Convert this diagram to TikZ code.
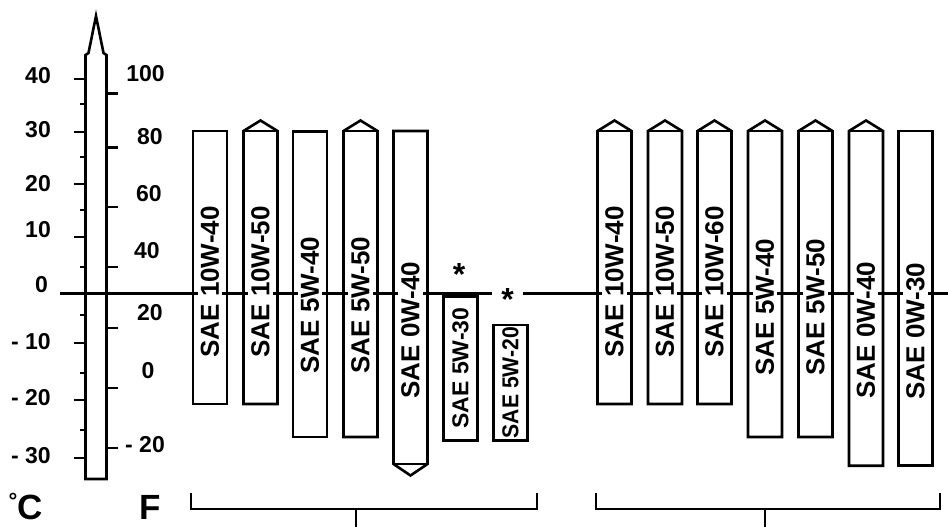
\documentclass[tikz,border=0pt]{standalone}
\usepackage{fontspec}
\setmainfont{Liberation Sans}
\newcommand{\oilbox}[8]{%
  \ifcase#4\relax
    \draw[box] (#1,#2) rectangle ++(34,#3-#2);
  \or
    \draw[box] (#1,#3) -- (#1,#2) -- (#1+17,#2-10.5) -- (#1+34,#2) -- (#1+34,#3) -- cycle;
    \draw[box] (#1,#2) -- (#1+34,#2);
  \or
    \draw[box] (#1,#3) -- (#1,#2) -- (#1+34,#2) -- (#1+34,#3) -- (#1+17,#3+11.5) -- cycle;
    \draw[box] (#1,#3) -- (#1+34,#3);
  \fi
  \node[sae, #7] (#8) at (#1+17,#6) {#5};%
}
\begin{document}
\begin{tikzpicture}[x=1pt,y=-1pt,
  box/.style={line width=2.6pt, line join=miter},
  rule/.style={line width=2.1pt},
  sae/.style={rotate=90, fill=white, inner sep=3pt, font=\fontsize{26}{26}\selectfont\bfseries},
  fs/.style={font=\fontsize{#1}{#1}\selectfont\bfseries},
  lbl/.style={inner sep=0pt, font=\fontsize{23}{23}\selectfont\bfseries},
  big/.style={inner sep=0pt, anchor=base west, font=\fontsize{35}{35}\selectfont\bfseries},
  star/.style={inner sep=0pt, anchor=base, font=\fontsize{32}{32}\selectfont\bfseries}]
\useasboundingbox (0,0) rectangle (948,527);
% zero line
\coordinate (z0) at (60,293.5);
\coordinate (z1) at (491.7,293.5);
\coordinate (z2) at (523.3,293.5);
\coordinate (z3) at (952,293.5);
\draw[rule] (z0) -- (z1);
\draw[rule] (z2) -- (z3);
% thermometer
\draw[box] (85.5,479) -- (85.5,55) -- (88.5,53) -- (96,16) -- (103.5,53) -- (106.5,55) -- (106.5,479) -- cycle;
% celsius ticks
\foreach \yy in {79,131.7,184.3,236.7,343.3,400,458}
  \draw[rule] (74,\yy) -- (85.5,\yy);
\foreach \yy in {104,157,210,267,315,373,430}
  \draw[rule] (80,\yy) -- (85.5,\yy);
% fahrenheit ticks
\foreach \yy in {93.5,147.5,206.7,266.7,328.3,388.3,448.3}
  \draw[rule] (106.5,\yy) -- (118,\yy);
% celsius labels
\node[lbl, anchor=east] (c40) at (51,76) {40};
\node[lbl, anchor=east] (c30) at (51,130) {30};
\node[lbl, anchor=east] (c20) at (51,184) {20};
\node[lbl, anchor=east] (c10) at (51,230) {10};
\node[lbl, anchor=east] (c0) at (48,285) {0};
\node[lbl, anchor=east] (cm10) at (51,342) {- 10};
\node[lbl, anchor=east] (cm20) at (51,398) {- 20};
\node[lbl, anchor=east] (cm30) at (51,456) {- 30};
% fahrenheit labels
\node[lbl] (f100) at (145.5,74) {100};
\node[lbl] (f80) at (150,136.5) {80};
\node[lbl] (f60) at (149,194) {60};
\node[lbl] (f40) at (147,251) {40};
\node[lbl] (f20) at (150,312.5) {20};
\node[lbl] (f0) at (148,371) {0};
\node[lbl] (fm20) at (145,444.5) {- 20};
% units
\node[big] (degc) at (8.5,519) {\raisebox{11pt}{\fontsize{22}{22}\selectfont °}C};
\node[big] (degf) at (139,519) {F};
% oil boxes, left group
\oilbox{193}{131}{404}{0}{SAE 10W-40}{282}{fs=26}{t1}
\oilbox{243.5}{131}{404}{1}{SAE 10W-50}{282}{fs=26}{t2}
\oilbox{293}{131.5}{437}{0}{SAE 5W-40}{305}{fs=26}{t3}
\oilbox{343.5}{131}{437}{1}{SAE 5W-50}{305}{fs=26}{t4}
\oilbox{393.5}{131}{464}{2}{SAE 0W-40}{330}{fs=26}{t5}
\oilbox{443.5}{296.7}{440.7}{0}{SAE 5W-30}{368}{fs=23, fill=none}{t6}
\oilbox{493.5}{325}{440.7}{0}{SAE 5W-20}{382.5}{fs=23, xscale=0.92, fill=none}{t7}
% oil boxes, right group
\oilbox{597.5}{131}{404}{1}{SAE 10W-40}{282}{fs=26}{r1}
\oilbox{648}{131}{404}{1}{SAE 10W-50}{282}{fs=26}{r2}
\oilbox{697.5}{131}{404}{1}{SAE 10W-60}{282}{fs=26}{r3}
\oilbox{748}{131}{437}{1}{SAE 5W-40}{307}{fs=26}{r4}
\oilbox{798.5}{131}{437}{1}{SAE 5W-50}{307}{fs=26}{r5}
\oilbox{849}{131}{465.7}{1}{SAE 0W-40}{330}{fs=26}{r6}
\oilbox{898.5}{131}{465.7}{0}{SAE 0W-30}{331}{fs=26}{r7}
% asterisks
\node[star] (s1) at (459,285) {*};
\node[star] (s2) at (507.5,310) {*};
% brackets
\coordinate (la) at (191,493);
\coordinate (lb) at (191,509);
\coordinate (lc) at (536.7,509);
\coordinate (ld) at (536.7,493);
\coordinate (lm) at (355.7,509);
\coordinate (ln) at (355.7,528);
\draw[rule] (la) -- (lb) -- (lc) -- (ld);
\draw[rule] (lm) -- (ln);
\coordinate (ra) at (595.7,493);
\coordinate (rb) at (595.7,509);
\coordinate (rc) at (940,509);
\coordinate (rd) at (940,493);
\coordinate (rm) at (765,509);
\coordinate (rn) at (765,528);
\draw[rule] (ra) -- (rb) -- (rc) -- (rd);
\draw[rule] (rm) -- (rn);
\end{tikzpicture}
\end{document}
